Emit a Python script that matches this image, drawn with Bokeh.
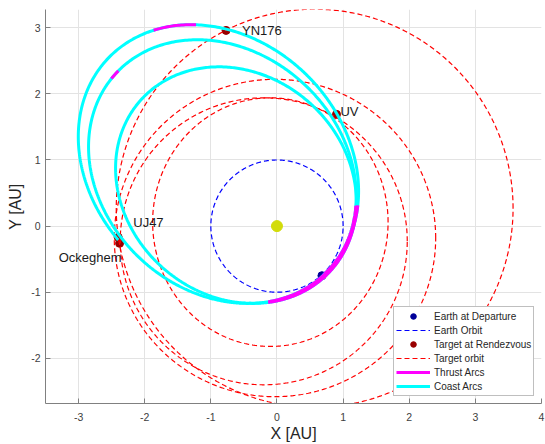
import numpy as np
from bokeh.plotting import figure
from bokeh.models import Range1d, Legend, LegendItem, Label, FixedTicker
from bokeh.embed import file_html
from bokeh.resources import INLINE

# ---- data -------------------------------------------------------------
# Target orbits projected on the ecliptic: centre and half extents [AU]
orbit_names = ["YN176", "UV", "UJ47", "Ockeghem"]
orbit_cx = [0.57, -0.10, -0.03, -0.20]
orbit_cy = [0.27, 0.06, -0.18, -0.23]
orbit_hw = [3.00, 1.78, 2.43, 2.17]
orbit_hh = [3.01, 1.88, 2.40, 2.17]

# Earth orbit radius [AU]
earth_orbit_r = 1.0

# Targets at rendezvous [AU]
target_x = [-0.77, 0.90, -2.40, -2.38]
target_y = [2.96, 1.69, -0.17, -0.26]

# Earth at departure [AU]
earth_x = [0.68]
earth_y = [-0.75]

# Trajectory legs: projected conic (centre, semi-axes, tilt in deg),
# swept between heliocentric longitudes lon0 -> lon1 (deg, unwrapped)
leg_cx = [-0.62, -0.825, -0.885]
leg_cy = [0.62, 0.825, 0.94]
leg_a = [1.93, 2.19, 2.31]
leg_b = [1.67, 1.81, 1.895]
leg_tilt = [138.5, 137.3, 135.9]
leg_lon0 = [-47.8, 315.0, -45.0]
leg_lon1 = [315.0, 675.0, 185.0]

# Thrust arcs: leg index and longitude span
thrust_leg = [0, 0, 1, 1, 1, 2, 2]
thrust_lon0 = [-47.8, 263.5, 315.0, 495.6, 623.5, -45.0, 111.9]
thrust_lon1 = [14.4, 315.0, 374.4, 498.3, 675.0, 14.4, 122.2]

x_ticks = [-3, -2, -1, 0, 1, 2, 3, 4]
x_tick_labels = ["-3", "-2", "-1", "0", "1", "2", "3", "4"]
y_ticks = [-2, -1, 0, 1, 2, 3]
y_tick_labels = ["-2", "-1", "0", "1", "2", "3"]


def conic_arc(i, lon0, lon1):
    """Points of leg i between two heliocentric longitudes (ray/ellipse cut)."""
    cx, cy, a, b = leg_cx[i], leg_cy[i], leg_a[i], leg_b[i]
    t = np.radians(leg_tilt[i])
    c, s = np.cos(t), np.sin(t)
    m11 = c * c / a**2 + s * s / b**2
    m22 = s * s / a**2 + c * c / b**2
    m12 = c * s * (1 / a**2 - 1 / b**2)
    n = int(abs(lon1 - lon0) * 2) + 2
    lon = np.radians(np.linspace(lon0, lon1, n))
    dx, dy = np.cos(lon), np.sin(lon)
    A = m11 * dx * dx + 2 * m12 * dx * dy + m22 * dy * dy
    B = dx * (m11 * cx + m12 * cy) + dy * (m12 * cx + m22 * cy)
    C = m11 * cx * cx + 2 * m12 * cx * cy + m22 * cy * cy - 1
    r = (B + np.sqrt(B * B - A * C)) / A
    return list(r * dx), list(r * dy)


def ellipse_outline(cx, cy, hw, hh):
    ang = np.radians(np.arange(0.0, 360.5, 0.5))
    return list(cx + hw * np.cos(ang)), list(cy + hh * np.sin(ang))


coast_xs, coast_ys = [], []
for i in range(len(leg_cx)):
    x, y = conic_arc(i, leg_lon0[i], leg_lon1[i])
    coast_xs.append(x)
    coast_ys.append(y)

thrust_xs, thrust_ys = [], []
for k in range(len(thrust_leg)):
    x, y = conic_arc(thrust_leg[k], thrust_lon0[k], thrust_lon1[k])
    thrust_xs.append(x)
    thrust_ys.append(y)

torb_xs, torb_ys = [], []
for k in range(len(orbit_cx)):
    x, y = ellipse_outline(orbit_cx[k], orbit_cy[k], orbit_hw[k], orbit_hh[k])
    torb_xs.append(x)
    torb_ys.append(y)

eorb_x, eorb_y = ellipse_outline(0.0, 0.0, earth_orbit_r, earth_orbit_r)

# ---- figure -----------------------------------------------------------
FONT = "Liberation Sans"
AXIS_GRAY = "#808080"
TEXT_GRAY = "#404040"

p = figure(width=545, height=444,
           x_range=Range1d(-3.5, 4.0), y_range=Range1d(-2.683, 3.276),
           output_backend="svg", toolbar_location=None,
           min_border_left=45, min_border_right=4,
           min_border_top=9, min_border_bottom=40)
p.outline_line_color = None
p.background_fill_color = "white"
p.border_fill_color = "white"

for ax in (p.xaxis[0], p.yaxis[0]):
    ax.axis_line_color = AXIS_GRAY
    ax.major_tick_line_color = AXIS_GRAY
    ax.major_tick_in = 5
    ax.major_tick_out = 0
    ax.minor_tick_line_color = None
    ax.major_label_text_font = FONT
    ax.major_label_text_font_size = "10.5px"
    ax.major_label_text_color = TEXT_GRAY
    ax.axis_label_text_font = FONT
    ax.axis_label_text_font_size = "16px"
    ax.axis_label_text_font_style = "normal"
    ax.axis_label_text_color = "#262626"

p.xaxis.ticker = FixedTicker(ticks=x_ticks)
p.yaxis.ticker = FixedTicker(ticks=y_ticks)
p.xaxis.major_label_overrides = dict(zip(x_ticks, x_tick_labels))
p.yaxis.major_label_overrides = dict(zip(y_ticks, y_tick_labels))
p.xaxis.axis_label = "X [AU]"
p.yaxis.axis_label = "Y [AU]"
p.xaxis.major_label_standoff = 9
p.yaxis.major_label_standoff = 5
p.xaxis.axis_label_standoff = 1
p.yaxis.axis_label_standoff = 4

p.xgrid.ticker = FixedTicker(ticks=x_ticks)
p.ygrid.ticker = FixedTicker(ticks=y_ticks)
for g in (p.xgrid[0], p.ygrid[0]):
    g.grid_line_color = "#e3e3e3"
    g.grid_line_width = 1

# Sun
p.scatter([0], [0], size=11, marker="circle", color="#d2dc0a", line_color="#d2dc0a")

# Earth at departure and Earth orbit
r_earth = p.scatter(earth_x, earth_y, size=8, marker="circle",
                    fill_color="#000099", line_color="#000099")
r_eorb = p.line(eorb_x, eorb_y, line_color="#0000ff", line_dash="5 3", line_width=1.2)

# Targets and their orbits
r_targ = p.scatter(target_x, target_y, size=8, marker="circle",
                   fill_color="#990000", line_color="#990000")
r_torb = p.multi_line(torb_xs, torb_ys, line_color="#ff0000", line_dash="5 3",
                      line_width=1.2)

# Trajectory
r_coast = p.multi_line(coast_xs, coast_ys, line_color="#00ffff", line_width=3)
r_thrust = p.multi_line(thrust_xs, thrust_ys, line_color="#ff00ff", line_width=3)

# Target labels
label_style = dict(text_font=FONT, text_font_size="13px", text_color="#1a1a1a",
                   text_baseline="middle")
p.add_layout(Label(x=target_x[0], y=target_y[0], text=orbit_names[0],
                   x_offset=16, y_offset=0, **label_style))
p.add_layout(Label(x=target_x[1], y=target_y[1], text=orbit_names[1],
                   x_offset=4, y_offset=3, **label_style))
p.add_layout(Label(x=target_x[2], y=target_y[2], text=orbit_names[2],
                   x_offset=15, y_offset=15, **label_style))
p.add_layout(Label(x=target_x[3], y=target_y[3], text=orbit_names[3],
                   x_offset=2, y_offset=-14, text_align="right", **label_style))

legend = Legend(items=[
    LegendItem(label="Earth at Departure", renderers=[r_earth]),
    LegendItem(label="Earth Orbit", renderers=[r_eorb]),
    LegendItem(label="Target at Rendezvous", renderers=[r_targ], index=0),
    LegendItem(label="Target orbit", renderers=[r_torb], index=0),
    LegendItem(label="Thrust Arcs", renderers=[r_thrust], index=0),
    LegendItem(label="Coast Arcs", renderers=[r_coast], index=0),
], location=(348, 7))
legend.label_text_font = FONT
legend.label_text_font_size = "10px"
legend.label_text_color = "#262626"
legend.label_height = 14
legend.glyph_height = 14
legend.glyph_width = 34
legend.label_standoff = 4
legend.spacing = 0
legend.padding = 2
legend.margin = 0
legend.border_line_color = "#7f7f7f"
legend.border_line_width = 1
legend.background_fill_color = "white"
legend.background_fill_alpha = 1.0
p.add_layout(legend)

open("out.html", "w").write(file_html(p, INLINE))
